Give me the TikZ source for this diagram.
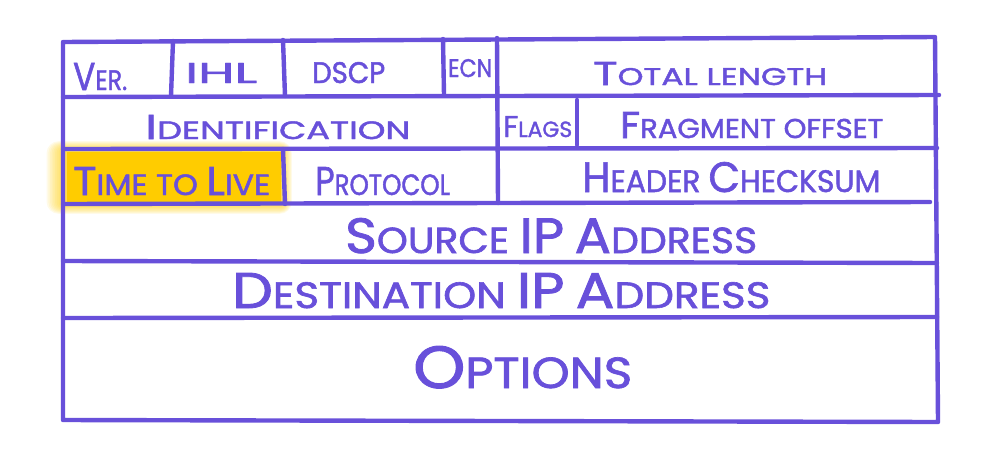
\documentclass[tikz,border=0pt]{standalone}
\usepackage{fontspec}
\setmainfont{Poppins}[FakeBold=1.6,AutoFakeBold=1.6]
\usepackage{graphicx}
\definecolor{ink}{RGB}{104,80,218}
\definecolor{hl}{RGB}{255,204,0}
\newcommand\C[1]{{\fontsize{10}{10}\selectfont #1}}
\newcommand\hw[3]{\resizebox{#1pt}{#2pt}{\fontsize{7.3}{8}\selectfont\bfseries #3}}
\begin{document}
\begin{tikzpicture}[x=1pt,y=-1pt,
  rule/.style={draw=ink,line width=4.4pt,line cap=round,line join=round},
  lbl/.style={inner sep=0pt,anchor=base west,text=ink}]
\useasboundingbox (0,0) rectangle (1000,461);
% highlight glow
\foreach \g in {1,...,12}{
  \fill[hl,opacity=0.09,rounded corners=\g pt]
    ({67-1.7*\g},{152-0.9*\g}) rectangle ({281+0.9*\g},{203+0.9*\g});
}
\fill[hl] (67,152) rectangle (281,203);
% outer frame
\coordinate (tl) at (63,42);
\coordinate (tr) at (935,37);
\coordinate (br) at (938,422);
\coordinate (bl) at (63,420);
\draw[rule] (tl) -- (tr) -- (br) -- (bl) -- cycle;
% row separators
\coordinate (r1l) at (63,97);  \coordinate (r1r) at (939,95);
\coordinate (r2l) at (63,149); \coordinate (r2r) at (937,148);
\coordinate (r3l) at (63,204); \coordinate (r3r) at (930,202);
\coordinate (r4l) at (63,261); \coordinate (r4r) at (937,263);
\coordinate (r5l) at (63,318); \coordinate (r5r) at (937,317);
\draw[rule] (r1l) -- (r1r);
\draw[rule] (r2l) -- (r2r);
\draw[rule] (r3l) -- (r3r);
\draw[rule] (r4l) -- (r4r);
\draw[rule] (r5l) -- (r5r);
% column separators
\coordinate (v1a) at (173,41); \coordinate (v1b) at (171,96);
\coordinate (v2a) at (283,40); \coordinate (v2b) at (285,96);
\coordinate (v3a) at (443,39); \coordinate (v3b) at (444,95);
\coordinate (v4a) at (497,38); \coordinate (v4b) at (498,203);
\coordinate (v5a) at (577,100); \coordinate (v5b) at (577,145);
\coordinate (v6a) at (283,149); \coordinate (v6b) at (285,204);
\draw[rule] (v1a) -- (v1b);
\draw[rule] (v2a) -- (v2b);
\draw[rule] (v3a) -- (v3b);
\draw[rule] (v4a) -- (v4b);
\draw[rule] (v5a) -- (v5b);
\draw[rule] (v6a) -- (v6b);
% labels
\node[lbl] (ver)   at (73,90)   {\hw{54}{27}{\C{V}ER.}};
\node[lbl] (ihl)   at (185,83)  {\hw{72}{20}{\C{IHL}}};
\node[lbl] (dscp)  at (312,83)  {\hw{73}{21}{\C{DSCP}}};
\node[lbl] (ecn)   at (448,77)  {\hw{44}{18}{\C{ECN}}};
\node[lbl] (total) at (593,85)  {\hw{234}{23}{\C{T}OTAL LENGTH}};
\node[lbl] (ident) at (145,139) {\hw{265}{24}{\C{I}DENTIFICATION}};
\node[lbl] (flags) at (503,137) {\hw{69}{21}{\C{F}LAGS}};
\node[lbl] (frag)  at (620,138) {\hw{263}{26}{\C{F}RAGMENT OFFSET}};
\node[lbl] (ttl)   at (73,195)  {\hw{197}{28}{\C{T}IME TO \C{L}IVE}};
\node[lbl] (proto) at (315,195) {\hw{135}{28}{\C{P}ROTOCOL}};
\node[lbl] (hcs)   at (582,192) {\hw{298}{30}{\C{H}EADER \C{C}HECKSUM}};
\node[lbl] (src)   at (345,253) {\hw{412}{35}{\C{S}OURCE \C{IP} \C{A}DDRESS}};
\node[lbl] (dst)   at (232,308) {\hw{538}{35}{\C{D}ESTINATION \C{IP} \C{A}DDRESS}};
\node[lbl] (opt)   at (413,388) {\hw{219}{42}{\C{O}PTIONS}};
\end{tikzpicture}
\end{document}
